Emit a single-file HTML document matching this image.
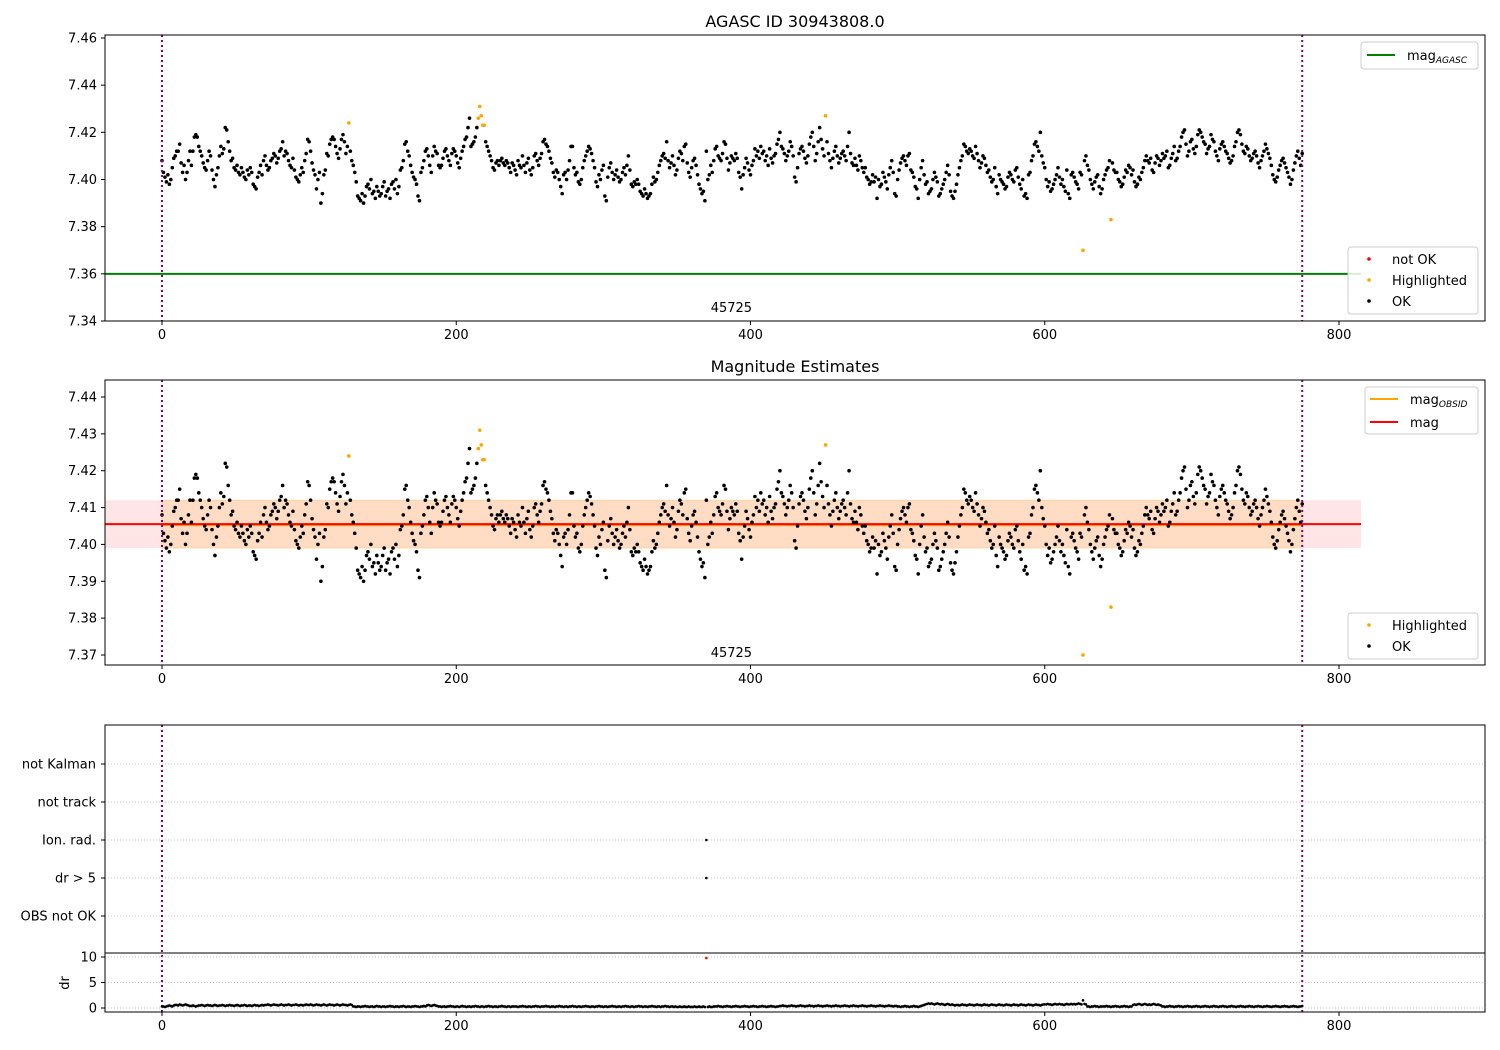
<!DOCTYPE html>
<html><head><meta charset="utf-8">
<style>
body{margin:0;background:#fff;}
svg{display:block;font-family:"DejaVu Sans","Liberation Sans",sans-serif;}
text{fill:#000;}
</style></head>
<body>
<svg id="fig" width="1500" height="1050" viewBox="0 0 1500 1050" xmlns="http://www.w3.org/2000/svg">
<rect width="1500" height="1050" fill="#fff"/>
<text x="795" y="27" font-size="16" text-anchor="middle">AGASC ID 30943808.0</text>
<text x="795" y="372" font-size="16" text-anchor="middle">Magnitude Estimates</text>
<g id="layer"></g>
</svg>
<script>
// ---- data ----
// magnitude offsets from 7.400 in thousandths, observations 0..775
const magMilli = [
8,3,1,-1,2,-2,0,5,9,10,
12,12,15,7,3,6,0,3,8,12,
6,12,18,19,18,14,12,10,7,5,
4,8,12,10,4,0,-3,2,5,10,
14,11,13,22,21,16,12,8,9,5,
4,6,3,2,5,3,1,0,4,2,
5,3,-2,-3,-4,1,3,6,2,8,
10,6,4,5,8,9,11,10,7,9,
12,13,16,10,12,11,8,6,5,9,
4,1,0,-1,2,5,3,8,11,17,
16,12,7,4,2,-4,0,3,-10,-6,
2,4,11,10,15,17,18,17,14,11,
9,13,17,19,16,11,14,24,12,8,
6,3,-1,-7,-8,-9,-6,-10,-7,-3,
-2,-4,0,-6,-5,-8,-3,-5,-7,-6,
-3,-1,-7,-5,-4,-8,-2,-1,-4,0,
-6,-3,4,5,8,15,16,12,10,6,
3,1,0,-2,-7,-9,3,5,8,12,
13,10,6,3,10,14,12,11,6,5,
6,9,12,13,10,8,6,11,13,12,
10,7,5,9,12,14,17,18,22,26,
14,15,16,18,22,26,31,27,23,23,
16,14,12,10,8,5,4,7,8,6,
8,9,7,6,8,7,5,3,7,6,
4,2,8,6,5,10,6,3,7,9,
4,2,5,10,11,8,6,9,11,16,
17,15,14,12,9,7,3,1,4,3,
0,-3,-6,2,3,0,4,8,14,14,
5,2,3,-1,-2,0,5,8,10,12,
14,13,11,8,5,-1,-3,2,0,4,
6,-7,-9,1,5,7,3,0,2,4,
1,-1,0,3,5,2,6,10,4,-2,
-3,-1,-2,0,-2,-5,-6,-7,-4,-6,
-8,-7,-6,-2,1,-1,0,3,6,8,
10,11,9,16,8,5,7,10,6,2,
4,9,12,11,8,14,15,7,3,1,
5,8,9,6,2,-2,-4,-6,-5,-9,
12,0,2,6,3,8,13,14,10,9,
8,11,16,15,9,4,7,10,9,8,
11,9,3,1,-4,2,5,9,7,4,
2,6,8,13,10,12,9,14,11,12,
8,10,6,13,9,7,10,11,15,17,
20,14,13,11,8,10,12,16,14,10,
1,-1,5,11,13,14,12,9,7,10,
15,18,20,14,8,11,16,22,17,13,
10,27,16,11,8,5,9,12,14,10,
7,9,11,12,10,8,14,20,11,7,
6,9,6,4,10,8,5,3,5,1,
0,-2,-1,2,-1,1,-8,0,-3,-2,
3,1,-1,-4,2,5,8,3,-6,-7,
0,4,7,9,10,8,6,10,11,4,
3,1,-3,-4,-8,0,5,8,2,-2,
-1,-6,-5,-4,0,3,1,-1,-7,-6,
-4,-2,0,3,6,2,-5,-7,-8,-5,
-2,2,5,8,10,15,14,12,11,13,
12,10,9,14,11,8,5,7,10,9,
6,3,4,1,-1,0,5,-3,-6,2,
0,-1,-2,-4,-3,1,3,2,0,-1,
4,5,1,-2,-4,0,-7,-6,-8,2,
3,8,10,15,16,14,12,20,10,7,
5,0,-3,-1,-5,-4,-2,0,2,5,
1,-2,0,-3,-5,4,-6,-8,2,3,
1,-1,-2,-4,3,2,-30,8,10,6,
4,0,-2,-4,-1,1,2,-3,-6,-4,
0,2,4,5,8,-17,7,4,3,3,
0,-1,-3,-2,1,4,3,6,5,2,
4,-1,-3,-2,1,0,3,5,8,10,
8,7,9,4,3,7,10,9,6,8,
11,9,10,12,5,6,9,11,14,8,
9,12,14,18,20,21,15,10,12,16,
17,13,11,14,19,21,20,18,16,15,
11,13,14,19,17,16,12,10,8,13,
15,16,14,12,11,9,7,8,10,14,
16,20,21,19,15,12,11,14,13,10,
8,9,11,12,10,7,5,8,10,12,
15,13,11,9,6,2,0,-1,1,4,
6,8,9,7,5,3,1,-2,0,4,
7,10,12,9,6,11];
const highlightedIdx = [127,215,216,217,218,219,451,626,645];
// dr in tenths of a unit
const drTenths = [
3,3,2,3,4,5,4,3,5,6,6,5,7,6,5,6,7,6,5,4,
4,5,4,3,4,5,5,6,5,4,5,6,5,5,4,5,6,5,4,5,
5,6,5,4,5,5,6,5,5,4,5,6,5,4,5,5,6,5,4,5,
5,4,5,6,5,5,4,5,6,5,6,6,7,6,5,6,7,6,6,5,
6,7,6,5,6,6,7,6,5,6,6,7,6,5,6,6,5,6,7,6,
6,7,6,5,6,7,6,6,5,6,7,6,5,6,7,6,6,5,6,7,
6,5,6,7,6,6,5,6,7,6,3,3,2,3,3,2,3,3,4,3,
3,2,3,3,2,3,4,3,3,2,3,3,2,3,3,4,3,3,2,3,
3,2,3,3,4,3,2,3,3,2,3,3,4,3,3,2,3,3,4,3,
5,6,5,4,5,6,5,4,3,3,2,3,3,2,3,3,4,3,3,2,
3,3,2,3,4,3,3,2,3,3,2,3,3,4,3,3,2,3,3,2,
3,3,4,3,3,2,3,3,2,3,3,4,3,3,2,3,3,2,3,3,
3,3,2,3,3,4,3,3,2,3,3,2,3,3,4,3,3,2,3,3,
3,4,3,3,2,3,3,2,3,3,4,3,3,2,3,3,2,3,3,4,
3,3,2,3,3,2,3,3,4,3,3,2,3,3,2,3,3,4,3,3,
2,3,3,2,3,3,4,3,3,2,3,3,2,3,3,4,3,3,2,3,
3,2,3,3,4,3,3,2,3,3,2,3,3,4,3,3,2,3,3,2,
3,3,4,3,3,2,3,3,2,3,2,2,3,2,2,3,2,2,3,2,
2,2,3,2,2,3,2,2,3,2,98,2,3,2,2,3,3,3,4,3,
3,2,3,3,4,3,3,2,3,3,4,3,3,2,3,3,4,3,3,2,
3,3,4,3,3,2,3,3,4,3,3,2,3,3,4,3,3,2,3,3,
4,4,5,4,4,3,4,4,5,4,4,3,4,4,5,4,4,3,4,4,
5,4,4,3,4,4,5,4,4,3,4,4,5,4,4,3,4,4,5,4,
4,3,4,4,5,4,4,3,4,4,5,4,4,3,4,4,5,4,4,3,
4,4,5,4,4,3,4,4,5,4,4,3,4,4,5,4,4,3,4,4,
3,3,2,3,3,4,3,3,2,3,3,4,3,3,2,3,4,5,6,7,
8,9,8,9,8,7,8,9,8,7,8,7,6,7,8,7,6,7,6,5,
6,6,5,6,7,6,6,5,6,7,6,6,5,6,7,6,6,5,6,7,
6,6,5,6,7,6,6,5,6,7,6,6,5,6,7,6,6,5,6,7,
6,6,5,6,7,6,6,5,6,7,6,6,5,6,7,6,6,5,6,7,
7,7,8,7,7,6,7,8,7,7,8,7,7,6,7,8,7,7,8,7,
8,7,8,9,8,7,15,8,7,3,3,2,3,3,4,3,3,2,3,3,
3,3,4,3,3,2,3,3,4,3,3,2,3,3,4,3,3,2,3,3,
6,7,6,7,8,7,6,7,8,7,6,7,6,7,8,7,6,7,6,5,
3,3,2,3,3,4,3,3,2,3,3,4,3,3,2,3,3,4,3,3,
2,3,3,4,3,3,2,3,3,4,3,3,2,3,3,4,3,3,2,3,
3,4,3,3,2,3,3,4,3,3,2,3,3,4,3,3,2,3,3,4,
3,3,2,3,3,4,3,3,2,3,3,4,3,3,2,3,3,4,3,3,
2,3,3,4,3,3,2,3,3,4,3,3,2,3,3,4];
const flagCategories = ["OBS not OK","dr > 5","Ion. rad.","not track","not Kalman"];
const ionRadIdx = [370];
const xTicks = [0,200,400,600,800];
const topYTicks = [7.34,7.36,7.38,7.40,7.42,7.44,7.46];
const midYTicks = [7.37,7.38,7.39,7.40,7.41,7.42,7.43,7.44];
const drTicks = [0,5,10];
const magAgasc = 7.36;
const magMean = 7.4055, magStd = 0.0065;
const obsMean = 7.4055, obsStd = 0.0065;
const obsStart = 0, obsEnd = 775;
const obsLabel = "45725", obsLabelX = 387;

// ---- scales ----
const X0=105, X1=1485;
const xs = v => 162 + v*1.47125;
const yTop = v => 321 - (v-7.34)*2358.5;
const yMid = v => 655 - (v-7.37)*3686;
const yCat = i => 916 - i*38;
const yDr = v => 1008 - v*5.1;
const NS="http://www.w3.org/2000/svg";
const layer=document.getElementById('layer');
const R=1.8;
function mk(tag, attrs, parent){const e=document.createElementNS(NS,tag);for(const k in attrs)e.setAttribute(k,attrs[k]);(parent||layer).appendChild(e);return e;}
function txt(s, attrs, parent){const e=mk('text',attrs,parent);e.textContent=s;return e;}

const mags = magMilli.map(m => 7.4 + m/1000);
const hl = new Set(highlightedIdx);

const defs=mk('defs',{});
[['cTop',35,286],['cMid',380,285],['cDr',953,59]].forEach(c=>{const cp=mk('clipPath',{id:c[0]},defs);mk('rect',{x:X0,y:c[1],width:X1-X0,height:c[2]},cp);});

function xAxis(yb, g){
  xTicks.forEach(t=>{
    const l=mk('line',{x1:xs(t),x2:xs(t),y1:yb,y2:yb+4,stroke:'#000','stroke-width':1},g);
    
    
    const s=txt(String(t),{x:xs(t),y:yb+18,'font-size':13,'text-anchor':'middle'},g);
    
    
  });
}
function yAxis(ticks, f, g, fmt){
  ticks.forEach(t=>{
    mk('line',{x1:X0-4,x2:X0,y1:f(t),y2:f(t),stroke:'#000','stroke-width':1},g);
    const s=txt(fmt(t),{x:X0-8,y:f(t)+4.5,'font-size':13,'text-anchor':'end'},g);
    
    
  });
}
function vlines(y1,y2,g){
  [obsStart,obsEnd].forEach(v=>{
    const l=mk('line',{x1:xs(v),x2:xs(v),y1:y1,y2:y2,stroke:'#800080','stroke-width':2,'stroke-dasharray':'2,3'},g);
    
    
  });
}
function dots(g, f, clip){
  const gg=mk('g',{'clip-path':'url(#'+clip+')'},g);
  mags.forEach((m,i)=>{ if(hl.has(i)) return;
    const c=mk('circle',{cx:xs(i),cy:f(m),r:R,fill:'#000'},gg);
    
    
  });
  highlightedIdx.forEach(i=>{
    const c=mk('circle',{cx:xs(i),cy:f(mags[i]),r:R,fill:'orange'},gg);
    
    
  });
}
function legendBox(x,y,w,h,g){mk('rect',{x:x,y:y,width:w,height:h,rx:3,fill:'#fff','fill-opacity':0.85,stroke:'#ccc','stroke-width':1},g);}

// ---- top panel ----
const gTop=mk('g',{});


const gl=mk('line',{x1:X0,x2:xs(815),y1:yTop(magAgasc),y2:yTop(magAgasc),stroke:'green','stroke-width':2},gTop);


dots(gTop,yTop,'cTop');
vlines(35,321,gTop);
txt(obsLabel,{x:xs(obsLabelX),y:312,'font-size':13,'text-anchor':'middle'},gTop);
mk('rect',{x:X0,y:35,width:X1-X0,height:286,fill:'none',stroke:'#000','stroke-width':1},gTop);
xAxis(321,gTop);
yAxis(topYTicks,yTop,gTop,t=>t.toFixed(2));
const lg1=mk('g',{},gTop);


legendBox(1361,42,117,27,lg1);
mk('line',{x1:1367,x2:1395,y1:55,y2:55,stroke:'green','stroke-width':2},lg1);
const t1=txt('mag',{x:1407,y:60,'font-size':13},lg1);
const ts=mk('tspan',{'font-size':9,'font-style':'italic',dy:3},t1);ts.textContent='AGASC';
const lg2=mk('g',{},gTop);


legendBox(1348,247,130,67,lg2);
[['not OK','red',259],['Highlighted','orange',280],['OK','#000',301]].forEach(r=>{
  mk('circle',{cx:1369,cy:r[2],r:R,fill:r[1]},lg2);
  txt(r[0],{x:1392,y:r[2]+5,'font-size':13},lg2);
});

// ---- middle panel ----
const gMid=mk('g',{});


const gm=mk('g',{'clip-path':'url(#cMid)'},gMid);
const b1=mk('rect',{x:X0,y:yMid(magMean+magStd),width:xs(815)-X0,height:yMid(magMean-magStd)-yMid(magMean+magStd),fill:'red','fill-opacity':0.1},gm);


const b2=mk('rect',{x:xs(obsStart),y:yMid(obsMean+obsStd),width:xs(obsEnd)-xs(obsStart),height:yMid(obsMean-obsStd)-yMid(obsMean+obsStd),fill:'#ffa500','fill-opacity':0.15,stroke:'#ffa500','stroke-opacity':0.25},gm);


dots(gMid,yMid,'cMid');
mk('line',{x1:xs(obsStart),x2:xs(obsEnd),y1:yMid(obsMean)+1,y2:yMid(obsMean)+1,stroke:'orange','stroke-width':2},gm);
const rl=mk('line',{x1:X0,x2:xs(815),y1:yMid(magMean),y2:yMid(magMean),stroke:'red','stroke-width':2},gm);


vlines(380,665,gMid);
txt(obsLabel,{x:xs(obsLabelX),y:657,'font-size':13,'text-anchor':'middle'},gMid);
mk('rect',{x:X0,y:380,width:X1-X0,height:285,fill:'none',stroke:'#000','stroke-width':1},gMid);
xAxis(665,gMid);
yAxis(midYTicks,yMid,gMid,t=>t.toFixed(2));
const lg3=mk('g',{},gMid);


legendBox(1365,387,113,47,lg3);
mk('line',{x1:1370,x2:1398,y1:399,y2:399,stroke:'orange','stroke-width':2},lg3);
const t3=txt('mag',{x:1410,y:404,'font-size':13},lg3);
const ts3=mk('tspan',{'font-size':9,'font-style':'italic',dy:3},t3);ts3.textContent='OBSID';
mk('line',{x1:1370,x2:1398,y1:422,y2:422,stroke:'red','stroke-width':2},lg3);
txt('mag',{x:1410,y:427,'font-size':13},lg3);
const lg4=mk('g',{},gMid);


legendBox(1348,613,130,46,lg4);
[['Highlighted','orange',625],['OK','#000',646]].forEach(r=>{
  mk('circle',{cx:1369,cy:r[2],r:R,fill:r[1]},lg4);
  txt(r[0],{x:1392,y:r[2]+5,'font-size':13},lg4);
});

// ---- flags panel ----
const gF=mk('g',{});


flagCategories.forEach((c,i)=>{
  mk('line',{x1:X0,x2:X1,y1:yCat(i),y2:yCat(i),stroke:'#b0b0b0','stroke-width':0.8,'stroke-dasharray':'1,2'},gF);
  mk('line',{x1:X0-4,x2:X0,y1:yCat(i),y2:yCat(i),stroke:'#000'},gF);
  const s=txt(c,{x:X0-9,y:yCat(i)+4.5,'font-size':13,'text-anchor':'end'},gF);
  
  
});
drTenths.forEach((d,i)=>{ if(d/10>5){
  const c=mk('circle',{cx:xs(i),cy:yCat(1),r:1.3,fill:'#000'},gF);
  
  
}});
ionRadIdx.forEach(i=>{
  const c=mk('circle',{cx:xs(i),cy:yCat(2),r:1.3,fill:'#000'},gF);
  
  
});
vlines(725,1012,gF);
mk('rect',{x:X0,y:725,width:X1-X0,height:228,fill:'none',stroke:'#000','stroke-width':1},gF);

// ---- dr panel ----
const gD=mk('g',{});


drTicks.forEach(t=>{
  mk('line',{x1:X0,x2:X1,y1:yDr(t),y2:yDr(t),stroke:'#b0b0b0','stroke-width':0.8,'stroke-dasharray':'1,2'},gD);
});
yAxis(drTicks,yDr,gD,t=>String(t));
const gdc=mk('g',{'clip-path':'url(#cDr)'},gD);
drTenths.forEach((d,i)=>{
  const v=d/10;
  const c=mk('circle',{cx:xs(i),cy:yDr(v),r:1.3,fill:v>5?'red':'#000'},gdc);
  
  
});
mk('rect',{x:X0,y:953,width:X1-X0,height:59,fill:'none',stroke:'#000','stroke-width':1},gD);
xAxis(1012,gD);
const dl=txt('dr',{x:0,y:0,'font-size':13,'text-anchor':'middle',transform:'translate(69,983) rotate(-90)'},gD);


</script>
</body></html>
